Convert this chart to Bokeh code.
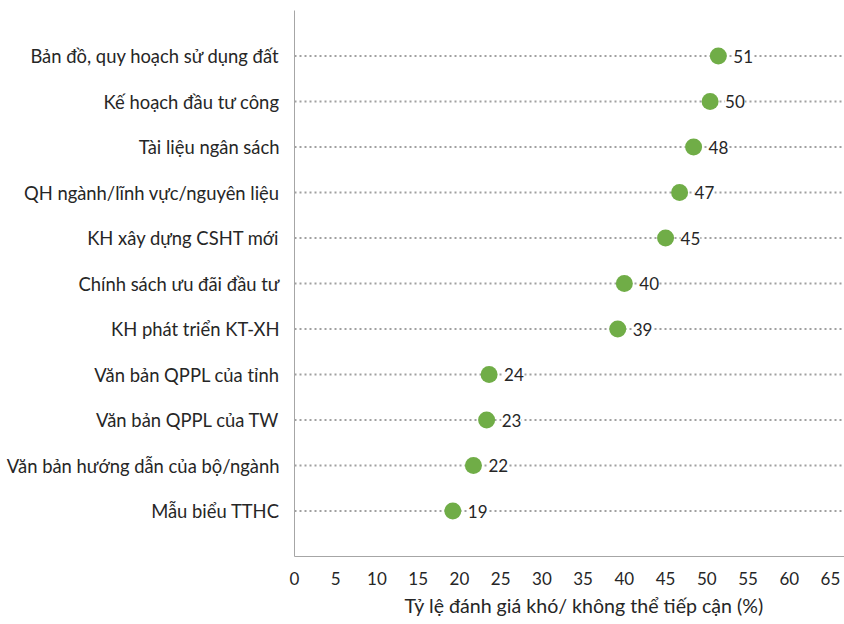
from bokeh.plotting import figure
from bokeh.models import FactorRange, ColumnDataSource, LabelSet, Range1d, Title
from bokeh.core.properties import value
from bokeh.embed import file_html
from bokeh.resources import INLINE

categories = [
    "Bản đồ, quy hoạch sử dụng đất",
    "Kế hoạch đầu tư công",
    "Tài liệu ngân sách",
    "QH ngành/lĩnh vực/nguyên liệu",
    "KH xây dựng CSHT mới",
    "Chính sách ưu đãi đầu tư",
    "KH phát triển KT-XH",
    "Văn bản QPPL của tỉnh",
    "Văn bản QPPL của TW",
    "Văn bản hướng dẫn của bộ/ngành",
    "Mẫu biểu TTHC",
]
values = [51.4, 50.4, 48.4, 46.7, 45.0, 40.0, 39.2, 23.6, 23.3, 21.7, 19.2]
x_ticks = list(range(0, 70, 5))
x_title = "Tỷ lệ đánh giá khó/ không thể tiếp cận (%)"

FONT = "Lato"
X_END = 66.7

labels = [str(round(v)) for v in values]
src = ColumnDataSource(dict(cat=categories, val=values, lab=labels,
                            x0=[0] * len(values), x1=[X_END] * len(values)))

p = figure(
    y_range=FactorRange(*reversed(categories), range_padding=1 / 11, range_padding_units="percent"),
    x_range=Range1d(0, X_END),
    frame_width=550, frame_height=546,
    min_border_left=294, min_border_top=10, min_border_right=0, min_border_bottom=0,
    output_backend="svg", toolbar_location=None,
    background_fill_color="white", border_fill_color="white",
)
p.outline_line_color = None
p.xgrid.grid_line_color = None
p.ygrid.grid_line_color = None

p.segment(x0="x0", x1="x1", y0="cat", y1="cat", source=src,
          line_color="#A0A0A0", line_width=2, line_dash="2 3")
p.scatter(x="val", y="cat", source=src, size=17, fill_color="#70AD47", line_color=None)

lbls = LabelSet(x="val", y="cat", text="lab", source=src, x_offset=15, y_offset=0,
                text_baseline="middle", text_align="left", text_font=value(FONT),
                text_font_size="17px", text_color="#262626",
                background_fill_color="white")
p.add_layout(lbls)

# axis title, placed as in the reference (its frame extends past the window)
t = Title(text=x_title, align="left", offset=110, text_font=FONT,
          text_font_size="19.6px", text_font_style="normal", text_color="#262626",
          standoff=9)
p.add_layout(t, "below")

p.xaxis.ticker = x_ticks
p.xaxis.major_label_text_font = FONT
p.xaxis.major_label_text_font_size = "17px"
p.xaxis.major_label_text_color = "#262626"
p.xaxis.major_label_standoff = 9
p.xaxis.major_tick_line_color = None
p.xaxis.minor_tick_line_color = None
p.xaxis.axis_line_color = "#A6A6A6"

p.yaxis.major_label_text_font = FONT
p.yaxis.major_label_text_font_size = "18.4px"
p.yaxis.major_label_text_color = "#262626"
p.yaxis.major_label_standoff = 9
p.yaxis.major_tick_line_color = None
p.yaxis.minor_tick_line_color = None
p.yaxis.axis_line_color = "#A6A6A6"

open("out.html", "w").write(file_html(p, INLINE))
